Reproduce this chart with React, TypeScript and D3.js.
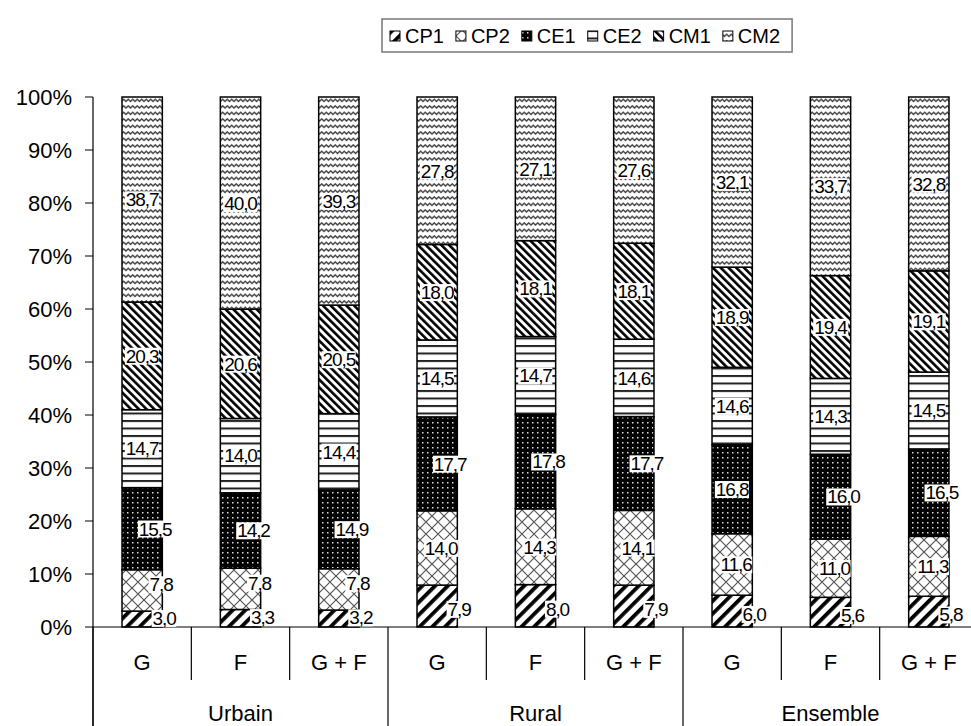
import { useEffect, useRef } from 'react';
import * as d3 from 'd3';

const groups = ['Urbain', 'Rural', 'Ensemble'];
const subCats = ['G', 'F', 'G + F'];
const seriesNames = ['CP1', 'CP2', 'CE1', 'CE2', 'CM1', 'CM2'];
const yTicks = [0, 10, 20, 30, 40, 50, 60, 70, 80, 90, 100];

// one value per bar: Urbain G, F, G+F, Rural G, F, G+F, Ensemble G, F, G+F
const cp1 = [3.0, 3.3, 3.2, 7.9, 8.0, 7.9, 6.0, 5.6, 5.8];
const cp2 = [7.8, 7.8, 7.8, 14.0, 14.3, 14.1, 11.6, 11.0, 11.3];
const ce1 = [15.5, 14.2, 14.9, 17.7, 17.8, 17.7, 16.8, 16.0, 16.5];
const ce2 = [14.7, 14.0, 14.4, 14.5, 14.7, 14.6, 14.6, 14.3, 14.5];
const cm1 = [20.3, 20.6, 20.5, 18.0, 18.1, 18.1, 18.9, 19.4, 19.1];
const cm2 = [38.7, 40.0, 39.3, 27.8, 27.1, 27.6, 32.1, 33.7, 32.8];

const W = 971;
const H = 726;
const FONT = '"Liberation Sans", Arial, sans-serif';

export default function App() {
  const ref = useRef<SVGSVGElement>(null);

  useEffect(() => {
    if (!ref.current) return;
    const svg = d3.select(ref.current);
    svg.selectAll('*').remove();

    const defs = svg.append('defs');
    // CP1: wide "/" stripes
    const p1 = defs.append('pattern').attr('id', 'pCP1').attr('patternUnits', 'userSpaceOnUse')
      .attr('width', 9).attr('height', 9).attr('patternTransform', 'rotate(45)');
    p1.append('rect').attr('width', 9).attr('height', 9).attr('fill', '#fff');
    p1.append('rect').attr('width', 3.8).attr('height', 9).attr('fill', '#000');
    // CP2: crosshatch
    const p2 = defs.append('pattern').attr('id', 'pCP2').attr('patternUnits', 'userSpaceOnUse')
      .attr('width', 12).attr('height', 12);
    p2.append('rect').attr('width', 12).attr('height', 12).attr('fill', '#fff');
    p2.append('path').attr('d', 'M0,0L12,12M12,0L0,12').attr('stroke', '#555').attr('stroke-width', 1.2);
    // CE1: black with white dots
    const p3 = defs.append('pattern').attr('id', 'pCE1').attr('patternUnits', 'userSpaceOnUse')
      .attr('width', 5).attr('height', 5);
    p3.append('rect').attr('width', 5).attr('height', 5).attr('fill', '#000');
    p3.append('rect').attr('x', 2).attr('y', 2).attr('width', 1.5).attr('height', 1.5).attr('fill', '#ddd');
    // CE2: horizontal lines
    const p4 = defs.append('pattern').attr('id', 'pCE2').attr('patternUnits', 'userSpaceOnUse')
      .attr('width', 8).attr('height', 7.5);
    p4.append('rect').attr('width', 8).attr('height', 7.5).attr('fill', '#fff');
    p4.append('rect').attr('y', 0).attr('width', 8).attr('height', 2).attr('fill', '#222');
    // CM1: "\" stripes
    const p5 = defs.append('pattern').attr('id', 'pCM1').attr('patternUnits', 'userSpaceOnUse')
      .attr('width', 5.5).attr('height', 5.5).attr('patternTransform', 'rotate(-45)');
    p5.append('rect').attr('width', 5.5).attr('height', 5.5).attr('fill', '#fff');
    p5.append('rect').attr('width', 2.6).attr('height', 5.5).attr('fill', '#000');
    // CM2: waves
    const p6 = defs.append('pattern').attr('id', 'pCM2').attr('patternUnits', 'userSpaceOnUse')
      .attr('width', 9).attr('height', 6.5);
    p6.append('rect').attr('width', 9).attr('height', 6.5).attr('fill', '#fff');
    p6.append('path').attr('d', 'M-0.5,4.5 L2.25,1.8 L4.5,4 L6.75,1.8 L9.5,4.5')
      .attr('fill', 'none').attr('stroke', '#333').attr('stroke-width', 1.4);

    const fills: Record<string, string> = {
      CP1: 'url(#pCP1)', CP2: 'url(#pCP2)', CE1: 'url(#pCE1)',
      CE2: 'url(#pCE2)', CM1: 'url(#pCM1)', CM2: 'url(#pCM2)',
    };
    const valuesBySeries: Record<string, number[]> = {
      CP1: cp1, CP2: cp2, CE1: ce1, CE2: ce2, CM1: cm1, CM2: cm2,
    };

    const bars = groups.flatMap((g) => subCats.map((s) => ({ group: g, sub: s, key: `${g}|${s}` })));
    const rows = bars.map((b, i) => {
      const r: Record<string, any> = { key: b.key };
      seriesNames.forEach((s) => (r[s] = valuesBySeries[s][i]));
      return r;
    });

    const left = 93;
    const right = 978;
    const top = 97;
    const bottom = 627;

    const x = d3.scaleBand().domain(bars.map((b) => b.key)).range([left, right]).padding(0);
    const y = d3.scaleLinear().domain([0, 1]).range([bottom, top]);
    const barW = x.bandwidth() * 0.41;

    const stack = d3.stack<any>().keys(seriesNames).offset(d3.stackOffsetExpand);
    const layers = stack(rows);

    const g = svg.append('g');
    layers.forEach((layer) => {
      g.append('g').selectAll('rect').data(layer).join('rect')
        .attr('x', (d) => (x(d.data.key) ?? 0) + x.bandwidth() / 2 - barW / 2)
        .attr('y', (d) => y(d[1]))
        .attr('width', barW)
        .attr('height', (d) => y(d[0]) - y(d[1]))
        .attr('fill', fills[layer.key])
        .attr('stroke', '#000')
        .attr('stroke-width', 1.5);
    });

    // axes
    svg.append('line').attr('x1', left).attr('x2', left).attr('y1', top).attr('y2', H)
      .attr('stroke', '#000').attr('stroke-width', 1.2);
    svg.append('line').attr('x1', left).attr('x2', W).attr('y1', bottom).attr('y2', bottom)
      .attr('stroke', '#000').attr('stroke-width', 1.2);
    yTicks.forEach((t) => {
      svg.append('line').attr('x1', left - 8).attr('x2', left).attr('y1', y(t / 100)).attr('y2', y(t / 100))
        .attr('stroke', '#000').attr('stroke-width', 1);
      svg.append('text').attr('x', 72).attr('y', y(t / 100)).attr('dy', '0.36em')
        .attr('text-anchor', 'end').attr('font-family', FONT).attr('font-size', 22)
        .text(`${t}%`);
    });

    // category labels and separators
    bars.forEach((b, i) => {
      const x0 = x(b.key) ?? 0;
      const isGroupStart = i % 3 === 0;
      svg.append('line').attr('x1', x0).attr('x2', x0).attr('y1', bottom)
        .attr('y2', isGroupStart ? H : 680).attr('stroke', '#000').attr('stroke-width', 1.2);
      svg.append('text').attr('x', x0 + x.bandwidth() / 2).attr('y', 670)
        .attr('text-anchor', 'middle').attr('font-family', FONT).attr('font-size', 22).text(b.sub);
    });
    groups.forEach((gr) => {
      const x0 = x(`${gr}|${subCats[0]}`) ?? 0;
      const x1 = (x(`${gr}|${subCats[2]}`) ?? 0) + x.bandwidth();
      svg.append('text').attr('x', (x0 + x1) / 2).attr('y', 721)
        .attr('text-anchor', 'middle').attr('font-family', FONT).attr('font-size', 22).text(gr);
    });

    // value labels
    const fmt = (v: number) => d3.format('.1f')(v).replace('.', ',');
    const lblG = svg.append('g');
    layers.forEach((layer) => {
      layer.forEach((d, i) => {
        const v = d.data[layer.key] as number;
        let dx = 0;
        let dy = 0;
        if (layer.key === 'CP1') { dx = 22; dy = v < 5 ? -1 : 3; }
        if (layer.key === 'CP2') { dx = v < 10 ? 19 : 4; dy = v < 10 ? -6 : 0; }
        if (layer.key === 'CE1' && i !== 6) dx = 13;
        const cx = (x(d.data.key) ?? 0) + x.bandwidth() / 2 + dx;
        const cy = (y(d[0]) + y(d[1])) / 2 + dy;
        const t = lblG.append('text').attr('x', cx).attr('y', cy).attr('dy', '0.36em')
          .attr('text-anchor', 'middle').attr('font-family', FONT).attr('font-size', 19)
          .attr('letter-spacing', -1.1).text(fmt(v));
        const bb = (t.node() as SVGTextElement).getBBox();
        lblG.insert('rect', () => t.node() as any)
          .attr('x', bb.x - 1).attr('y', bb.y + 2).attr('width', bb.width + 1).attr('height', bb.height - 4)
          .attr('fill', '#fff');
      });
    });

    // legend
    const leg = svg.append('g');
    const legBox = leg.append('rect').attr('fill', '#fff').attr('stroke', '#777').attr('stroke-width', 1.5);
    let lx = 390;
    const ly = 36;
    seriesNames.forEach((s) => {
      leg.append('rect').attr('x', lx).attr('y', ly - 5).attr('width', 10).attr('height', 10)
        .attr('fill', fills[s]).attr('stroke', '#000').attr('stroke-width', 1);
      const t = leg.append('text').attr('x', lx + 15).attr('y', ly).attr('dy', '0.36em')
        .attr('font-family', FONT).attr('font-size', 20).text(s);
      lx += 15 + (t.node() as SVGTextElement).getComputedTextLength() + 12;
    });
    legBox.attr('x', 382).attr('y', 19).attr('width', lx - 382).attr('height', 33);
  }, []);

  return (
    <svg
      ref={ref}
      width={W}
      height={H}
      style={{ position: 'absolute', left: 0, top: 0, background: '#fff' }}
    />
  );
}
